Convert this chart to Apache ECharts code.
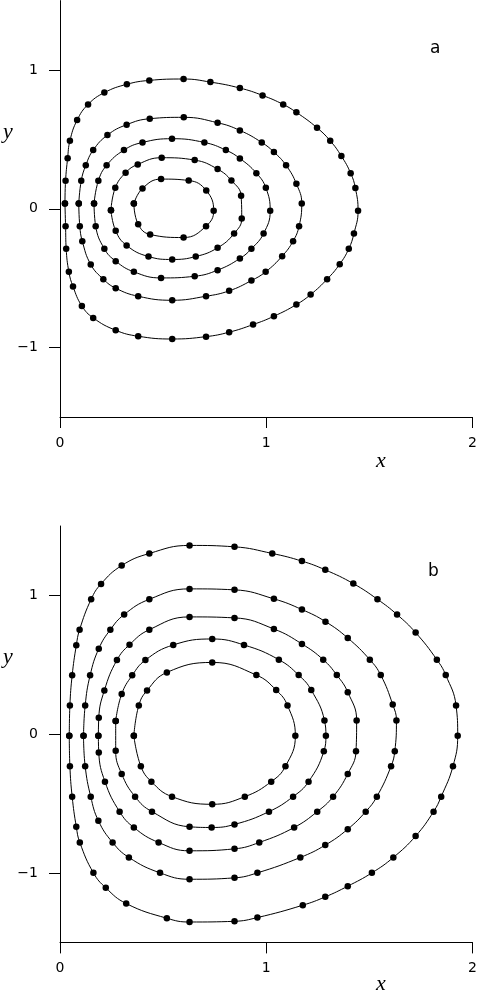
<!DOCTYPE html>
<html>
<head>
<meta charset="utf-8">
<style>
html,body{margin:0;padding:0;background:#fff;}
#chart{width:480px;height:996px;}
</style>
<script src="https://cdn.jsdelivr.net/npm/echarts@6/dist/echarts.min.js"></script>
</head>
<body>
<div id="chart"></div>
<script>
// Axis ticks
const xTicks = [0, 1, 2];
const yTicks = [-1, 0, 1];
const panelLabels = ['a', 'b'];

// Panel a orbits (x, y)
const orbitA1 = [[0.024,0.038],[0.027,0.202],[0.037,0.365],[0.048,0.490],[0.083,0.639],[0.136,0.752],[0.215,0.837],[0.324,0.897],[0.433,0.925],[0.599,0.935],[0.729,0.913],[0.872,0.870],[0.982,0.817],[1.082,0.752],[1.146,0.695],[1.246,0.584],[1.310,0.490],[1.364,0.380],[1.409,0.257],[1.432,0.149],[1.445,-0.014],[1.425,-0.178],[1.400,-0.288],[1.356,-0.399],[1.295,-0.507],[1.215,-0.618],[1.146,-0.690],[1.037,-0.774],[0.936,-0.834],[0.820,-0.889],[0.708,-0.921],[0.544,-0.938],[0.379,-0.918],[0.270,-0.875],[0.161,-0.786],[0.106,-0.700],[0.063,-0.560],[0.043,-0.454],[0.030,-0.288],[0.027,-0.125]];
const orbitA2 = [[0.091,0.038],[0.103,0.202],[0.125,0.313],[0.161,0.423],[0.230,0.531],[0.323,0.606],[0.435,0.649],[0.600,0.659],[0.764,0.620],[0.872,0.565],[0.978,0.478],[1.037,0.409],[1.096,0.313],[1.146,0.180],[1.172,0.038],[1.159,-0.125],[1.130,-0.233],[1.077,-0.341],[0.997,-0.454],[0.928,-0.517],[0.820,-0.591],[0.708,-0.630],[0.544,-0.659],[0.379,-0.630],[0.270,-0.572],[0.210,-0.507],[0.149,-0.401],[0.108,-0.233],[0.096,-0.125]];
const orbitA3 = [[0.165,0.038],[0.186,0.202],[0.226,0.313],[0.310,0.423],[0.400,0.478],[0.543,0.505],[0.700,0.478],[0.804,0.423],[0.872,0.363],[0.952,0.257],[0.998,0.151],[1.019,-0.014],[0.987,-0.178],[0.928,-0.288],[0.872,-0.358],[0.764,-0.442],[0.653,-0.486],[0.490,-0.498],[0.358,-0.454],[0.270,-0.377],[0.215,-0.288],[0.173,-0.125]];
const orbitA4 = [[0.247,-0.010],[0.268,0.151],[0.318,0.260],[0.377,0.320],[0.493,0.368],[0.653,0.351],[0.764,0.286],[0.831,0.204],[0.878,0.094],[0.881,-0.070],[0.844,-0.178],[0.764,-0.281],[0.658,-0.344],[0.544,-0.365],[0.429,-0.344],[0.323,-0.264],[0.270,-0.159]];
const orbitA5 = [[0.358,0.038],[0.400,0.147],[0.490,0.214],[0.624,0.204],[0.709,0.132],[0.745,-0.014],[0.708,-0.125],[0.599,-0.207],[0.437,-0.185],[0.379,-0.111]];

// Panel b orbits (x, y)
const orbitB1 = [[0.045,-0.012],[0.048,0.207],[0.059,0.424],[0.079,0.640],[0.095,0.753],[0.151,0.972],[0.199,1.083],[0.299,1.215],[0.433,1.302],[0.628,1.360],[0.846,1.350],[1.029,1.302],[1.173,1.247],[1.286,1.184],[1.422,1.085],[1.539,0.972],[1.634,0.862],[1.724,0.732],[1.827,0.537],[1.870,0.426],[1.920,0.207],[1.928,-0.012],[1.905,-0.231],[1.848,-0.450],[1.811,-0.558],[1.724,-0.734],[1.616,-0.888],[1.512,-0.999],[1.395,-1.095],[1.286,-1.172],[1.177,-1.232],[0.957,-1.321],[0.846,-1.348],[0.628,-1.353],[0.518,-1.326],[0.321,-1.220],[0.222,-1.107],[0.162,-0.999],[0.096,-0.780],[0.079,-0.667],[0.059,-0.450],[0.048,-0.231]];
const orbitB2 = [[0.114,-0.012],[0.122,0.207],[0.146,0.424],[0.188,0.616],[0.244,0.753],[0.311,0.862],[0.433,0.972],[0.628,1.047],[0.846,1.040],[1.037,0.975],[1.173,0.898],[1.287,0.811],[1.395,0.693],[1.502,0.537],[1.555,0.426],[1.613,0.214],[1.631,0.099],[1.623,-0.123],[1.605,-0.231],[1.536,-0.450],[1.482,-0.558],[1.395,-0.684],[1.286,-0.799],[1.165,-0.888],[0.957,-0.999],[0.846,-1.035],[0.628,-1.045],[0.485,-0.999],[0.334,-0.888],[0.255,-0.780],[0.186,-0.623],[0.149,-0.450],[0.122,-0.231]];
const orbitB3 = [[0.186,-0.012],[0.188,0.118],[0.215,0.315],[0.276,0.534],[0.337,0.645],[0.433,0.753],[0.628,0.845],[0.846,0.838],[1.037,0.758],[1.173,0.650],[1.276,0.537],[1.342,0.426],[1.395,0.303],[1.438,0.099],[1.435,-0.123],[1.395,-0.286],[1.324,-0.450],[1.247,-0.558],[1.135,-0.672],[0.966,-0.780],[0.846,-0.826],[0.628,-0.840],[0.478,-0.780],[0.358,-0.672],[0.289,-0.558],[0.218,-0.342],[0.188,-0.132]];
const orbitB4 = [[0.270,0.096],[0.299,0.289],[0.350,0.424],[0.414,0.534],[0.549,0.643],[0.738,0.686],[0.892,0.643],[1.061,0.537],[1.157,0.426],[1.218,0.318],[1.282,0.099],[1.289,-0.012],[1.279,-0.123],[1.205,-0.342],[1.130,-0.450],[1.013,-0.558],[0.846,-0.650],[0.735,-0.672],[0.628,-0.667],[0.446,-0.558],[0.364,-0.450],[0.299,-0.286],[0.270,-0.120]];
const orbitB5 = [[0.358,-0.012],[0.382,0.207],[0.422,0.315],[0.518,0.445],[0.738,0.517],[0.952,0.426],[1.048,0.318],[1.103,0.207],[1.141,-0.012],[1.093,-0.231],[1.024,-0.342],[0.896,-0.450],[0.738,-0.505],[0.543,-0.450],[0.443,-0.342],[0.392,-0.231]];

const orbitsA = [orbitA1, orbitA2, orbitA3, orbitA4, orbitA5];
const orbitsB = [orbitB1, orbitB2, orbitB3, orbitB4, orbitB5];

function closed(pts){ return pts.concat([pts[0]]); }
function fmt(v){ return v < 0 ? '\u2212' + Math.abs(v) : String(v); }

const axisColor = '#000';
const tickFont = { color:'#000', fontSize:14, fontFamily:'DejaVu Sans' };

function makeX(gi){
  return {
    gridIndex: gi, type:'value', min:0, max:2, interval:1,
    axisLine:{ show:true, onZero:false, lineStyle:{ color:axisColor, width:1 } },
    axisTick:{ show:true, inside:false, length:11, lineStyle:{ color:axisColor, width:1 } },
    axisLabel:{ show:true, margin:19, formatter:fmt, ...tickFont, customValues: xTicks },
    splitLine:{ show:false }
  };
}
function makeY(gi){
  return {
    gridIndex: gi, type:'value', min:-1.5, max:1.5,
    axisLine:{ show:true, onZero:false, lineStyle:{ color:axisColor, width:1 } },
    axisTick:{ show:true, inside:false, length:11, customValues: yTicks, lineStyle:{ color:axisColor, width:1 } },
    axisLabel:{ show:true, margin:22, formatter:fmt, customValues: yTicks, ...tickFont },
    splitLine:{ show:false }
  };
}

const series = [];
[orbitsA, orbitsB].forEach((orbits, gi) => {
  orbits.forEach(o => {
    series.push({
      type:'line', xAxisIndex:gi, yAxisIndex:gi,
      data: closed(o), smooth:0.45,
      symbol:'circle', symbolSize:6.5, showSymbol:true,
      lineStyle:{ color:'#000', width:1 },
      itemStyle:{ color:'#000' },
      emphasis:{ disabled:true }, silent:true
    });
  });
});

const italic = { fontFamily:'Liberation Serif', fontStyle:'italic', fontSize:22, fill:'#000' };
const chart = echarts.init(document.getElementById('chart'), null, { renderer:'canvas' });
chart.setOption({
  animation:false,
  backgroundColor:'#fff',
  grid:[
    { left:60, top:0.6, width:415.5, height:416.4 },
    { left:60, top:526, width:415.5, height:416.4 }
  ],
  xAxis:[ makeX(0), makeX(1) ],
  yAxis:[ makeY(0), makeY(1) ],
  series: series,
  graphic:[
    { type:'text', left:430, top:40, style:{ text:panelLabels[0], fontFamily:'DejaVu Sans', fontSize:17, fill:'#000' } },
    { type:'text', left:428, top:563, style:{ text:panelLabels[1], fontFamily:'DejaVu Sans', fontSize:17, fill:'#000' } },
    { type:'text', left:3, top:121, style:{ text:'y', ...italic } },
    { type:'text', left:3, top:646, style:{ text:'y', ...italic } },
    { type:'text', left:376, top:450, style:{ text:'x', ...italic } },
    { type:'text', left:376, top:973, style:{ text:'x', ...italic } }
  ]
});
</script>
</body>
</html>
